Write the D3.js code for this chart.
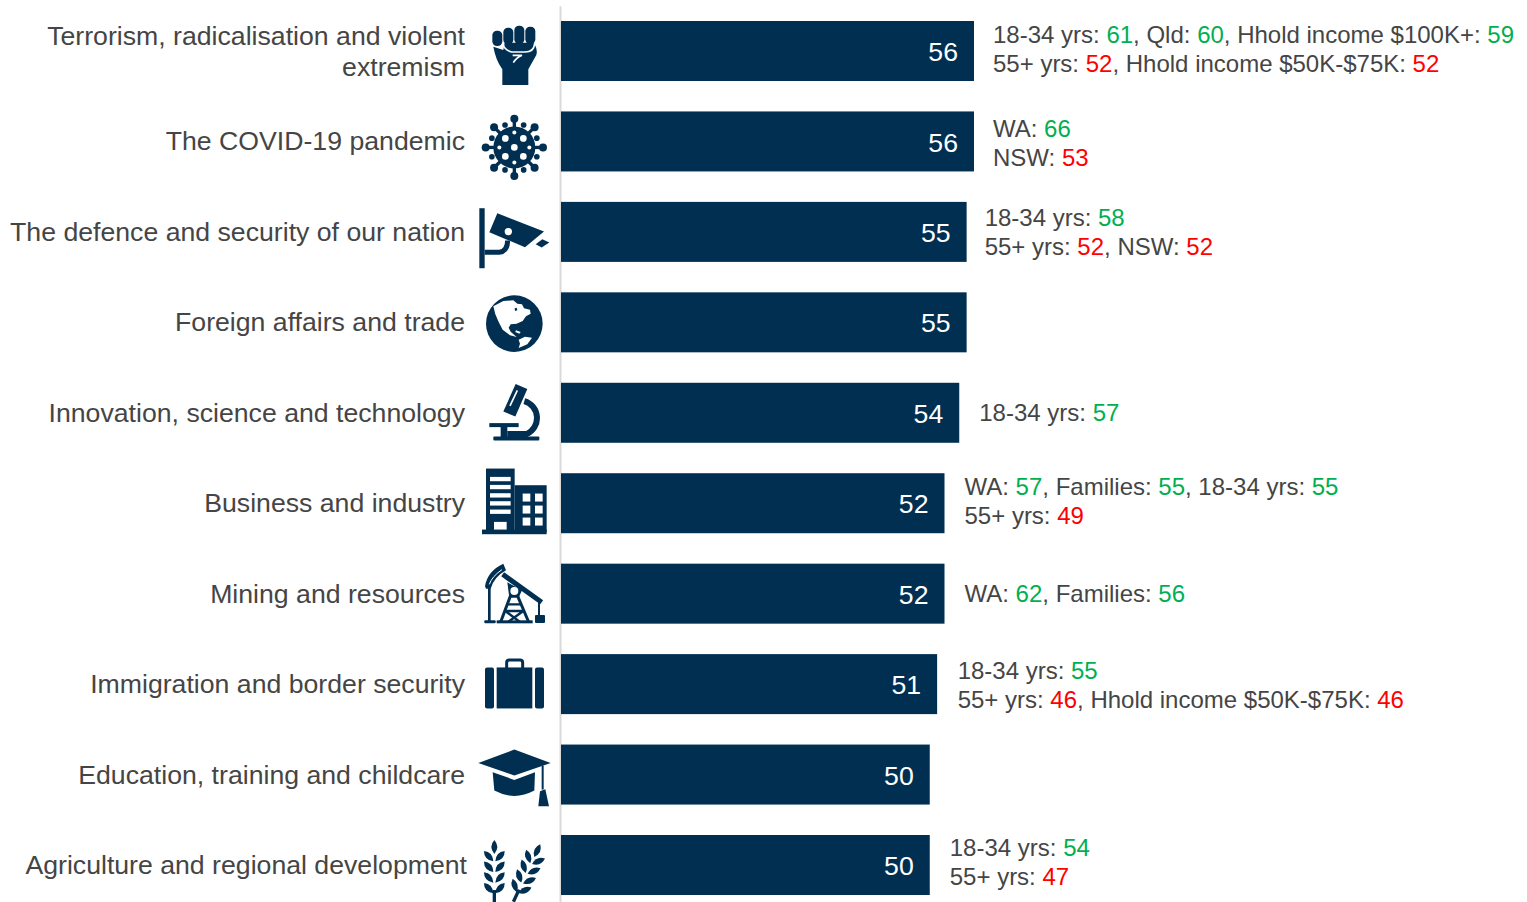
<!DOCTYPE html>
<html>
<head>
<meta charset="utf-8">
<script src="https://cdn.jsdelivr.net/npm/d3@7"></script>
<style>
	html, body { margin: 0; padding: 0; background: #fff; overflow: hidden; }
	text { font-family: "Liberation Sans", Arial, sans-serif; }
</style>
</head>
<body>
<svg id="chart"></svg>
<script>
// values
const categories = [
	"Terrorism, radicalisation and violent extremism",
	"The COVID-19 pandemic",
	"The defence and security of our nation",
	"Foreign affairs and trade",
	"Innovation, science and technology",
	"Business and industry",
	"Mining and resources",
	"Immigration and border security",
	"Education, training and childcare",
	"Agriculture and regional development",
];
const scores = [56, 56, 55, 55, 54, 52, 52, 51, 50, 50];
const highNotes = [
	[["18-34 yrs", 61], ["Qld", 60], ["Hhold income $100K+", 59]],
	[["WA", 66]],
	[["18-34 yrs", 58]],
	[],
	[["18-34 yrs", 57]],
	[["WA", 57], ["Families", 55], ["18-34 yrs", 55]],
	[["WA", 62], ["Families", 56]],
	[["18-34 yrs", 55]],
	[],
	[["18-34 yrs", 54]],
];
const lowNotes = [
	[["55+ yrs", 52], ["Hhold income $50K-$75K", 52]],
	[["NSW", 53]],
	[["55+ yrs", 52], ["NSW", 52]],
	[],
	[],
	[["55+ yrs", 49]],
	[],
	[["55+ yrs", 46], ["Hhold income $50K-$75K", 46]],
	[],
	[["55+ yrs", 47]],
];

const width = 1527;
const height = 902;
const navy = "#002f52";
const grey = "#454545";
const green = "#00b050";
const red = "#ff0000";
const fontSize = 26.67;
const noteSize = 24;
const lineGap = 28.8;
// small per-row shifts, the original text boxes were placed by hand
const noteNudgeY = [-2.5, 1.5, 0, 0, 0, -2, 0, 1, 0, -3];
const noteNudgeX = [-1, -1, -2, 0, 0, 0, 0, 0.5, 0, 0];
const labelNudgeY = [0.5, 0.5, 0.5, 0.5, 0.5, 0.5, 0.5, 0.5, 0.5, 0.5];
const labelNudgeX = [0, 0, 0, 0, 0, 0, 0, 0, 0, 2];

// icon shapes, drawn at 3x around their own centre line
const icons = [
	{
		c: 153,
		draw(g) {
			[[67, 92, 30, 46], [100, 83, 30, 50], [133, 77, 30, 55], [166, 80, 30, 52]].forEach((f) => {
				g.append("rect").attr("x", f[0]).attr("y", f[1]).attr("width", f[2]).attr("height", f[3]).attr("rx", 14).attr("fill", navy);
			});
			g.append("path").attr("fill", navy)
				.attr("d", "M70,140 L100,150 L104,128 L192,128 Q204,150 199,165 L175,208 L175,255 L97,255 L97,208 Q77,180 70,140Z");
			g.append("path").attr("fill", "none").attr("stroke", "#fff").attr("stroke-width", 5)
				.attr("d", "M100,134 Q103,150 125,156 L165,156 Q192,156 194,130");
			g.append("path").attr("fill", "none").attr("stroke", "#fff").attr("stroke-width", 5)
				.attr("d", "M128,166 L156,166 Q140,172 130,188");
		},
	},
	{
		c: 423,
		draw(g) {
			const cx = 133, cy = 441;
			const big = d3.range(8).map((i) => (i * Math.PI) / 4);
			big.forEach((a) => {
				const bx = cx + 86 * Math.cos(a), by = cy + 86 * Math.sin(a);
				g.append("line").attr("x1", cx).attr("y1", cy).attr("x2", bx).attr("y2", by).attr("stroke", navy).attr("stroke-width", 10);
				g.append("circle").attr("cx", bx).attr("cy", by).attr("r", 12).attr("fill", navy);
			});
			big.forEach((a) => {
				const bx = cx + 73 * Math.cos(a + Math.PI / 8), by = cy + 73 * Math.sin(a + Math.PI / 8);
				g.append("circle").attr("cx", bx).attr("cy", by).attr("r", 8.5).attr("fill", navy);
			});
			g.append("circle").attr("cx", cx).attr("cy", cy).attr("r", 63).attr("fill", navy);
			[[0, 0, 10], [-27, -27, 10], [27, -27, 10], [-27, 27, 10], [27, 27, 10], [0, -45, 6], [0, 45, 6], [-45, 0, 6], [45, 0, 6]].forEach((h) => {
				g.append("circle").attr("cx", cx + h[0]).attr("cy", cy + h[1]).attr("r", h[2]).attr("fill", "#fff");
			});
		},
	},
	{
		c: 696,
		draw(g) {
			g.append("rect").attr("x", 28).attr("y", 625).attr("width", 16).attr("height", 180).attr("fill", navy);
			g.append("path").attr("fill", "none").attr("stroke", navy).attr("stroke-width", 15)
				.attr("d", "M44,757 L88,757 Q112,755 113,722");
			g.append("path").attr("fill", navy).attr("d", "M82,640 L222,695 L165,742 L58,697Z");
			g.append("circle").attr("cx", 115).attr("cy", 695).attr("r", 11).attr("fill", "#fff");
			g.append("path").attr("fill", navy).attr("d", "M217,718 L238,728 L215,743 L197,733Z");
		},
	},
	{
		c: 126,
		draw(g) {
			g.append("circle").attr("cx", 133).attr("cy", 130).attr("r", 85).attr("fill", navy);
			g.append("path").attr("fill", "#fff")
				.attr("d", "M70,78 L100,62 L130,60 L142,70 L156,72 L162,84 L180,88 L182,100 L168,108 L158,122 L140,130 L122,132 L116,142 L122,154 L140,170 L120,165 L98,148 L86,125 L76,102Z");
			g.append("path").attr("fill", "#fff").attr("d", "M146,178 L165,169 L186,172 L172,192 L146,203 L150,190Z");
			g.append("path").attr("fill", "#fff").attr("d", "M138,150 L152,155 L148,160 L136,155Z");
			g.append("path").attr("fill", navy).attr("d", "M134,84 L140,82 L142,90 L135,92Z");
		},
	},
	{
		c: 399,
		draw(g) {
			g.append("path").attr("fill", navy).attr("d", "M137,313 L172,328 L136,410 L100,395Z");
			g.append("path").attr("fill", "none").attr("stroke", "#fff").attr("stroke-width", 5).attr("d", "M142,332 L120,378");
			g.append("path").attr("fill", "none").attr("stroke", navy).attr("stroke-width", 18)
				.attr("d", "M163,364 A53,53 0 0 1 170,463 L112,463");
			g.append("rect").attr("x", 58).attr("y", 430).attr("width", 88).attr("height", 12).attr("fill", navy);
			g.append("rect").attr("x", 92).attr("y", 440).attr("width", 20).attr("height", 32).attr("fill", navy);
			g.append("rect").attr("x", 70).attr("y", 470).attr("width", 138).attr("height", 12).attr("rx", 3).attr("fill", navy);
		},
	},
	{
		c: 669,
		draw(g) {
			g.append("rect").attr("x", 48).attr("y", 565).attr("width", 86).attr("height", 190).attr("fill", navy);
			g.append("rect").attr("x", 134).attr("y", 615).attr("width", 96).attr("height", 140).attr("fill", navy);
			g.append("rect").attr("x", 36).attr("y", 748).attr("width", 194).attr("height", 14).attr("fill", navy);
			[590, 614, 639, 663, 688].forEach((wy) => {
				g.append("rect").attr("x", 60).attr("y", wy).attr("width", 62).attr("height", 13).attr("fill", "#fff");
			});
			g.append("rect").attr("x", 72).attr("y", 725).attr("width", 38).attr("height", 23).attr("fill", "#fff");
			[640, 676, 712].forEach((wy) => {
				[158, 195].forEach((wx) => {
					g.append("rect").attr("x", wx).attr("y", wy).attr("width", 23).attr("height", 24).attr("fill", "#fff");
				});
			});
		},
	},
	{
		c: 940,
		draw(g) {
			g.append("path").attr("fill", navy).attr("d", "M45,918 Q52,872 100,850 L108,870 Q72,890 62,925 L48,925Z");
			g.append("path").attr("fill", "none").attr("stroke", "#fff").attr("stroke-width", 3).attr("d", "M58,912 Q66,888 96,868");
			g.append("path").attr("fill", "none").attr("stroke", navy).attr("stroke-width", 15).attr("d", "M98,882 L215,966");
			g.append("rect").attr("x", 54).attr("y", 920).attr("width", 8).attr("height", 102).attr("fill", navy);
			g.append("rect").attr("x", 43).attr("y", 1020).attr("width", 34).attr("height", 9).attr("rx", 3).attr("fill", navy);
			g.append("rect").attr("x", 80).attr("y", 1020).attr("width", 108).attr("height", 9).attr("fill", navy);
			g.append("path").attr("fill", navy).attr("d", "M112,906 L156,930 L146,952 L118,952Z");
			g.append("path").attr("fill", "none").attr("stroke", navy).attr("stroke-width", 9)
				.attr("d", "M122,945 L92,1025 M142,945 L176,1025");
			g.append("path").attr("fill", "none").attr("stroke", navy).attr("stroke-width", 7)
				.attr("d", "M110,972 L156,972 M104,992 L162,992 M106,992 L150,1025 M160,992 L114,1025");
			g.append("circle").attr("cx", 133).attr("cy", 932).attr("r", 12).attr("fill", "#fff");
			g.append("rect").attr("x", 204).attr("y", 965).attr("width", 6).attr("height", 42).attr("fill", navy);
			g.append("rect").attr("x", 195).attr("y", 1004).attr("width", 30).attr("height", 24).attr("rx", 3).attr("fill", navy);
		},
	},
	{
		c: 132,
		draw(g) {
			g.append("rect").attr("x", 45).attr("y", 82).attr("width", 27).attr("height", 123).attr("rx", 6).attr("fill", navy);
			g.append("rect").attr("x", 80).attr("y", 82).attr("width", 107).attr("height", 123).attr("fill", navy);
			g.append("rect").attr("x", 195).attr("y", 82).attr("width", 27).attr("height", 123).attr("rx", 6).attr("fill", navy);
			g.append("path").attr("fill", "none").attr("stroke", navy).attr("stroke-width", 9)
				.attr("d", "M110,84 L110,68 Q110,60 118,60 L150,60 Q158,60 158,68 L158,84");
		},
	},
	{
		c: 402,
		draw(g) {
			g.append("path").attr("fill", navy).attr("d", "M25,367 L133,327 L242,367 L133,405Z");
			g.append("path").attr("fill", navy).attr("d", "M68,395 L133,418 L195,395 L193,450 Q133,482 73,450Z");
			g.append("rect").attr("x", 215).attr("y", 375).attr("width", 6).attr("height", 72).attr("fill", navy);
			g.append("path").attr("fill", navy).attr("d", "M205,497 L210,452 L226,446 L237,497Z");
		},
	},
	{
		c: 675,
		draw(g) {
			const leaf = "M0,0 Q-18,-22 0,-42 Q18,-22 0,0Z";
			function stalk(s, rot) {
				const wrap = s.append("g").attr("transform", "translate(73,760) rotate(" + rot + ")");
				wrap.append("rect").attr("x", -5).attr("y", -10).attr("width", 10).attr("height", 40).attr("fill", navy);
				wrap.append("path").attr("fill", navy).attr("d", leaf).attr("transform", "translate(0,-118)");
				[0, 32, 64, 96].forEach((d) => {
					wrap.append("path").attr("fill", navy).attr("d", leaf).attr("transform", "translate(-3," + (-d) + ") rotate(-42)");
					wrap.append("path").attr("fill", navy).attr("d", leaf).attr("transform", "translate(3," + (-d) + ") rotate(42)");
				});
			}
			stalk(g, 0);
			const second = g.append("g").attr("transform", "translate(70,-2)");
			stalk(second, 25);
		},
	},
];

const svg = d3.select("#chart").attr("width", width).attr("height", height);

const x = d3.scaleLinear().domain([0, 56]).range([561, 974]);
const y = d3.scaleBand().domain(categories).range([5.8, 910.2]).paddingInner(0.3366).paddingOuter(0.168);

// category labels come from the axis, its domain line is the grey divider
const axis = svg.append("g")
	.attr("transform", "translate(560,0)")
	.call(d3.axisLeft(y).tickSize(0).tickSizeOuter(0).tickPadding(95));
axis.select(".domain").attr("stroke", "#d9d9d9").attr("stroke-width", 2);
axis.selectAll(".tick text")
	.attr("font-size", fontSize)
	.attr("fill", grey)
	.attr("transform", (d, i) => "translate(" + labelNudgeX[i] + "," + labelNudgeY[i] + ")")
	.each(function (d) {
		if (d !== categories[0]) return;
		const t = d3.select(this).text(null);
		t.append("tspan").attr("x", -95).attr("dy", "-0.26em").text("Terrorism, radicalisation and violent");
		t.append("tspan").attr("x", -95).attr("dy", 31).text("extremism");
	});

svg.append("g")
	.selectAll("rect")
	.data(categories)
	.join("rect")
	.attr("x", x(0))
	.attr("y", (d) => y(d))
	.attr("width", (d, i) => x(scores[i]) - x(0))
	.attr("height", y.bandwidth())
	.attr("fill", navy);

svg.append("g")
	.selectAll("text")
	.data(categories)
	.join("text")
	.attr("x", (d, i) => x(scores[i]) - 16)
	.attr("y", (d) => y(d) + y.bandwidth() / 2)
	.attr("dy", "0.38em")
	.attr("text-anchor", "end")
	.attr("font-size", fontSize)
	.attr("fill", "#fff")
	.text((d, i) => scores[i]);

function addLine(i, items, color, yPos) {
	if (!items.length) return;
	const t = svg.append("text")
		.attr("x", x(scores[i]) + 20 + noteNudgeX[i])
		.attr("y", yPos)
		.attr("dy", "0.36em")
		.attr("font-size", noteSize)
		.attr("fill", grey);
	items.forEach((item, k) => {
		t.append("tspan").text((k > 0 ? ", " : "") + item[0] + ": ");
		t.append("tspan").attr("fill", color).text(item[1]);
	});
}

categories.forEach((c, i) => {
	const mid = y(c) + y.bandwidth() / 2 + noteNudgeY[i];
	const both = highNotes[i].length && lowNotes[i].length;
	addLine(i, highNotes[i], green, both ? mid - lineGap / 2 : mid);
	addLine(i, lowNotes[i], red, both ? mid + lineGap / 2 : mid);

	const g = svg.append("g")
		.attr("transform", "translate(470," + (y(c) + y.bandwidth() / 2) + ") scale(0.3333) translate(0," + -icons[i].c + ")");
	icons[i].draw(g);
});
</script>
</body>
</html>
